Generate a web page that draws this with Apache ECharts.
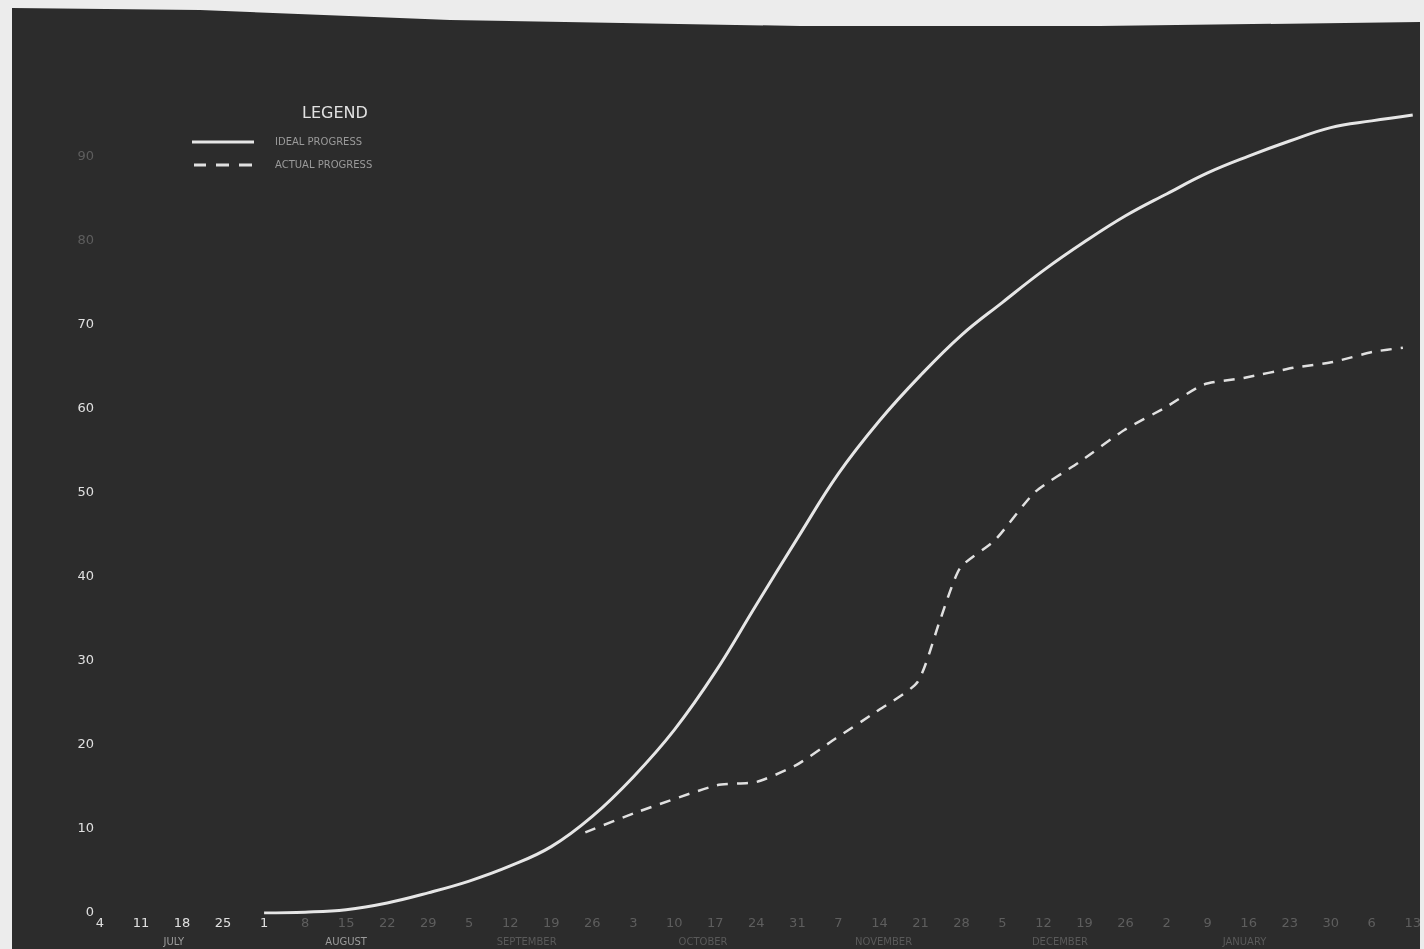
<!DOCTYPE html>
<html>
<head>
<meta charset="utf-8">
<script src="https://cdn.jsdelivr.net/npm/echarts@6/dist/echarts.min.js"></script>
<style>
  html, body { margin: 0; padding: 0; background: #ececec; width: 1424px; height: 949px; overflow: hidden; }
  #chart { position: absolute; left: 0; top: 0; width: 1424px; height: 949px; background: #2c2c2c;
    clip-path: polygon(12px 8px, 200px 10px, 450px 20px, 800px 26px, 1100px 26px, 1420px 22px, 1420px 949px, 12px 949px); }
</style>
</head>
<body>
<div id="chart"></div>
<script>
// Week index 0 = July 4; tick labels are the day of month of each week
const weekLabels = ['4','11','18','25','1','8','15','22','29','5','12','19','26','3','10','17','24','31','7','14','21','28','5','12','19','26','2','9','16','23','30','6','13'];
const monthNames = ['JULY','AUGUST','SEPTEMBER','OCTOBER','NOVEMBER','DECEMBER','JANUARY'];
const monthCenters = [1.8, 6, 10.4, 14.7, 19.1, 23.4, 27.9];
const yTicks = [0,10,20,30,40,50,60,70,80,90];

const seriesNames = ['IDEAL PROGRESS', 'ACTUAL PROGRESS'];
const solidWeeks = [4,5,6,7,8,9,10,11,12,13,14,15,16,17,18,19,20,21,22,23,24,25,26,27,28,29,30,31,32];
const solidValues = [0,0.1,0.4,1.2,2.4,3.8,5.6,7.9,11.5,16.2,21.8,28.7,36.7,44.6,52.3,58.6,64,68.8,72.7,76.5,79.9,83,85.6,88.1,90.1,91.9,93.5,94.3,95];
const dashedWeeks = [11.83,13.09,15.03,16.0,16.97,17.94,18.9,19.93,20.48,20.97,21.82,22.79,23.88,24.97,25.94,26.9,27.88,29.09,30.06,31.03,31.76];
const dashedValues = [9.6,12.0,15.2,15.6,17.6,20.8,23.9,27.5,34.9,41.1,44.4,50.1,53.7,57.5,60.1,62.9,63.7,64.9,65.6,66.8,67.3];

const chart = echarts.init(document.getElementById('chart'), null, {renderer: 'canvas'});
const pair = (xs, ys) => xs.map((x, i) => [x, ys[i]]);

chart.setOption({
  backgroundColor: 'transparent',
  animation: false,
  title: {
    text: 'LEGEND', left: 297, top: 101,
    textStyle: { color: '#e2e2e2', fontSize: 16, fontWeight: 'normal', fontFamily: 'DejaVu Sans' }
  },
  legend: {
    orient: 'vertical', left: 187, top: 130, itemWidth: 62, itemHeight: 3, itemGap: 9,
    textStyle: { color: '#9a9a9a', fontSize: 10, fontFamily: 'DejaVu Sans', lineHeight: 14, padding: [0,0,0,16] },
    data: [
      { name: seriesNames[0], icon: 'path://M0,0H62V3H0Z' },
      { name: seriesNames[1], icon: 'path://M0,0H12V3H0Z M22,0H35V3H22Z M45,0H58V3H45Z' }
    ]
  },
  grid: { left: 100, right: 4, top: 73, bottom: 36, containLabel: false },
  xAxis: [{
    type: 'value', min: 0, max: 32, interval: 1,
    axisLine: { show: false }, axisTick: { show: false }, splitLine: { show: false },
    axisLabel: {
      margin: 4, fontSize: 13, fontFamily: 'DejaVu Sans',
      color: (v, i) => (v < 4.5 ? '#e0e0e0' : '#5e5e5e'),
      formatter: v => weekLabels[Math.round(v)] || ''
    }
  }, {
    type: 'value', min: 0, max: 32, position: 'bottom',
    axisLine: { show: false }, axisTick: { show: false }, splitLine: { show: false },
    axisLabel: {
      margin: 24, fontSize: 10, fontFamily: 'DejaVu Sans',
      customValues: monthCenters,
      color: v => (v < 7 ? '#9c9c9c' : '#5a5a5a'),
      formatter: v => monthNames[monthCenters.indexOf(v)] || ''
    }
  }],
  yAxis: {
    type: 'value', min: 0, max: 100, interval: 10,
    axisLine: { show: false }, axisTick: { show: false }, splitLine: { show: false },
    axisLabel: {
      margin: 6, fontSize: 13, fontFamily: 'DejaVu Sans',
      color: v => (v >= 80 ? '#5e5e5e' : '#e0e0e0'),
      formatter: v => (yTicks.indexOf(v) >= 0 ? String(v) : '')
    }
  },
  series: [{
    name: seriesNames[0], type: 'line', smooth: 0.4, symbol: 'none', xAxisIndex: 0,
    lineStyle: { color: '#e6e6e6', width: 3 },
    itemStyle: { color: '#e6e6e6' },
    data: pair(solidWeeks, solidValues)
  }, {
    name: seriesNames[1], type: 'line', smooth: 0.2, symbol: 'none', xAxisIndex: 0,
    lineStyle: { color: '#e0e0e0', width: 2.5, type: [11, 9] },
    itemStyle: { color: '#e0e0e0' },
    data: pair(dashedWeeks, dashedValues)
  }]
});
</script>
</body>
</html>
